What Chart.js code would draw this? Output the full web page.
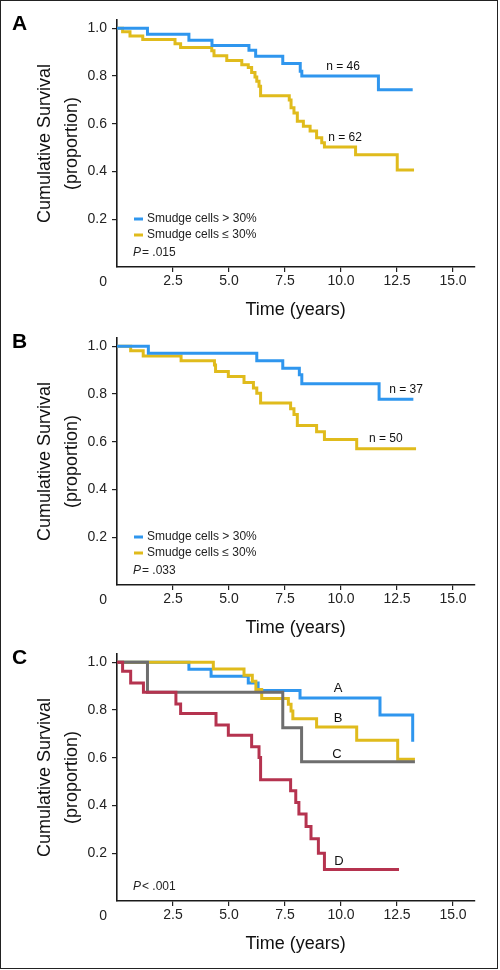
<!DOCTYPE html>
<html><head><meta charset="utf-8">
<script src="https://cdn.jsdelivr.net/npm/chart.js@4.4.1/dist/chart.umd.min.js"></script>
<style>
html,body{margin:0;padding:0;background:#fff;}
body{width:500px;height:970px;position:relative;overflow:hidden;}
#frame{position:absolute;left:0;top:0;width:498px;height:969px;box-sizing:border-box;border:1px solid #222;pointer-events:none;z-index:5}
canvas{position:absolute;left:0;}
</style></head><body>
<div id="frame"></div>
<canvas id="cA" width="500" height="322" style="top:0px"></canvas>
<canvas id="cB" width="500" height="322" style="top:318px"></canvas>
<canvas id="cC" width="500" height="322" style="top:634px"></canvas>
<script>
// ---- tick values ----
const xTicks = [2.5, 5, 7.5, 10, 12.5, 15];
const yTicks = [0, 0.2, 0.4, 0.6, 0.8, 1.0];

// ---- Panel A ----
const aHighTime = [0, 1.36, 3.21, 4.24, 5.89, 6.19, 7.4, 8.18, 8.25, 11.67, 13.2];
const aHighSurv = [1, 0.975, 0.95, 0.928, 0.908, 0.883, 0.853, 0.82, 0.80, 0.743, 0.743];
const aLowTime = [0, 0.25, 0.58, 1.15, 2.59, 2.84, 4.23, 4.33, 4.9, 5.57, 5.86, 6.01, 6.16, 6.24, 6.34, 6.41, 7.69, 7.77, 7.9, 8.05, 8.32, 8.62, 8.91, 9.14, 9.26, 10.65, 12.51, 13.26];
const aLowSurv = [1, 0.986, 0.968, 0.953, 0.935, 0.92, 0.906, 0.885, 0.865, 0.847, 0.836, 0.815, 0.796, 0.778, 0.757, 0.718, 0.70, 0.667, 0.645, 0.611, 0.59, 0.57, 0.542, 0.521, 0.503, 0.47, 0.406, 0.406];

// ---- Panel B ----
const bHighTime = [0, 1.40, 6.24, 7.4, 8.14, 8.25, 11.7, 13.23];
const bHighSurv = [1, 0.971, 0.940, 0.908, 0.881, 0.843, 0.778, 0.778];
const bLowTime = [0, 0.61, 1.17, 2.86, 4.35, 4.40, 4.97, 5.67, 6.09, 6.24, 6.41, 7.75, 7.9, 8.05, 8.91, 9.26, 10.7, 13.35];
const bLowSurv = [1, 0.982, 0.96, 0.94, 0.922, 0.895, 0.874, 0.849, 0.825, 0.804, 0.763, 0.739, 0.714, 0.668, 0.642, 0.61, 0.571, 0.571];

// ---- Panel C ----
const cATime = [0, 3.21, 4.2, 5.86, 6.3, 8.17, 11.74, 13.2];
const cASurv = [1, 0.971, 0.942, 0.914, 0.882, 0.851, 0.779, 0.667];
const cBTime = [0, 4.3, 5.67, 6.04, 6.2, 6.46, 7.65, 7.77, 7.85, 8.91, 10.7, 12.53, 13.3];
const cBSurv = [1, 0.972, 0.946, 0.921, 0.886, 0.849, 0.824, 0.796, 0.764, 0.729, 0.674, 0.594, 0.594];
const cCTime = [0, 1.36, 7.4, 8.24, 13.3];
const cCSurv = [1, 0.875, 0.726, 0.583, 0.583];
const cDTime = [0, 0.25, 0.61, 1.18, 2.63, 2.84, 4.42, 4.97, 6.01, 6.34, 6.41, 7.75, 7.98, 8.12, 8.44, 8.66, 8.99, 9.26, 12.59];
const cDSurv = [1, 0.9625, 0.914, 0.875, 0.826, 0.786, 0.738, 0.695, 0.646, 0.601, 0.508, 0.462, 0.413, 0.365, 0.312, 0.261, 0.20, 0.132, 0.132];

const legendLabels = ['Smudge cells > 30%', 'Smudge cells \u2264 30%'];

const FONT = '"Liberation Sans", Arial, Helvetica, sans-serif';
const BLUE = '#2f96ee', YELLOW = '#e0bb1c', RED = '#b5334f', GRAY = '#6e6e6e';

function pts(t, s) { return t.map((v, i) => ({x: v, y: s[i]})); }
function ds(t, s, color) {
  return {data: pts(t, s), borderColor: color, borderWidth: 3, pointRadius: 0,
          stepped: 'before', fill: false, tension: 0, borderCapStyle: 'butt', borderJoinStyle: 'miter'};
}

const annot = {
  id: 'annot',
  afterDraw(chart, args, o) {
    const ctx = chart.ctx, xs = chart.scales.x, ys = chart.scales.y, ca = chart.chartArea;
    ctx.save();
    ctx.fillStyle = '#000';
    ctx.textBaseline = 'middle';
    ctx.textAlign = 'left';
    ctx.font = 'bold 21px ' + FONT;
    ctx.fillText(o.letter, 12, 24);
    ctx.fillStyle = '#111';
    ctx.textAlign = 'center';
    (o.labels || []).forEach(l => {
      ctx.font = l.size + 'px ' + FONT;
      ctx.fillText(l.text, xs.getPixelForValue(l.t), ys.getPixelForValue(l.s));
    });
    ctx.textAlign = 'left';
    ctx.font = '12px ' + FONT;
    (o.legend || []).forEach((it, i) => {
      const y = ca.bottom - 48 + i * 16;
      ctx.strokeStyle = it.color; ctx.lineWidth = 3;
      ctx.beginPath(); ctx.moveTo(ca.left + 17, y); ctx.lineTo(ca.left + 26, y); ctx.stroke();
      ctx.fillStyle = '#222';
      ctx.fillText(it.text, ca.left + 30, y);
    });
    const py = ca.bottom - 14;
    ctx.fillStyle = '#222';
    ctx.font = 'italic 12px ' + FONT;
    ctx.fillText('P', ca.left + 16, py);
    const w = ctx.measureText('P').width;
    ctx.font = '12px ' + FONT;
    ctx.fillText(o.pText, ca.left + 16 + w + 1, py);
    ctx.restore();
  }
};

function options(annotOpts) {
  return {
    responsive: false, animation: false, devicePixelRatio: 1,
    layout: {padding: {left: 0, right: 25.7, top: 18, bottom: 0}},
    plugins: {legend: {display: false}, tooltip: {enabled: false}, annot: annotOpts},
    scales: {
      x: {
        type: 'linear', min: 0, max: 15.95,
        afterBuildTicks: s => { s.ticks = xTicks.map(v => ({value: v})); },
        afterFit: s => { s.height = 55; },
        grid: {drawOnChartArea: false, drawTicks: true, tickLength: 5, color: '#222', lineWidth: 1.2},
        border: {display: true, color: '#1a1a1a', width: 1.6},
        ticks: {padding: 1, color: '#222', font: {family: FONT, size: 14}, maxRotation: 0, autoSkip: false,
                callback: v => Number(v).toFixed(1)},
        title: {display: true, text: 'Time (years)', color: '#111', font: {family: FONT, size: 18},
                padding: {top: 0, bottom: 1.2}}
      },
      y: {
        type: 'linear', min: 0, max: 1.035,
        afterBuildTicks: s => { s.ticks = yTicks.map(v => ({value: v})); },
        afterFit: s => { s.width = 117; },
        grid: {drawOnChartArea: false, drawTicks: true, tickLength: 5, lineWidth: 1.2,
               color: c => (c.tick && c.tick.value === 0) ? 'rgba(0,0,0,0)' : '#222'},
        border: {display: true, color: '#1a1a1a', width: 1.6},
        ticks: {padding: 5, color: '#222', font: {family: FONT, size: 14, lineHeight: '30px'}, autoSkip: false,
                callback: v => v === 0 ? ['', '0'] : Number(v).toFixed(1)},
        title: {display: true, text: ['Cumulative Survival', '(proportion)'], color: '#111',
                font: {family: FONT, size: 18, lineHeight: 1.5}, padding: {top: 31.5, bottom: 0}}
      }
    }
  };
}

new Chart(document.getElementById('cA'), {
  type: 'line',
  data: {datasets: [ds(aHighTime, aHighSurv, BLUE), ds(aLowTime, aLowSurv, YELLOW)]},
  options: options({
    letter: 'A', pText: '= .015',
    labels: [{text: 'n = 46', t: 10.09, s: 0.84, size: 12}, {text: 'n = 62', t: 10.18, s: 0.54, size: 12}],
    legend: [{text: legendLabels[0], color: BLUE}, {text: legendLabels[1], color: YELLOW}]
  }),
  plugins: [annot]
});

new Chart(document.getElementById('cB'), {
  type: 'line',
  data: {datasets: [ds(bHighTime, bHighSurv, BLUE), ds(bLowTime, bLowSurv, YELLOW)]},
  options: options({
    letter: 'B', pText: '= .033',
    labels: [{text: 'n = 37', t: 12.9, s: 0.82, size: 12}, {text: 'n = 50', t: 12.0, s: 0.6125, size: 12}],
    legend: [{text: legendLabels[0], color: BLUE}, {text: legendLabels[1], color: YELLOW}]
  }),
  plugins: [annot]
});

new Chart(document.getElementById('cC'), {
  type: 'line',
  data: {datasets: [ds(cDTime, cDSurv, RED), ds(cCTime, cCSurv, GRAY), ds(cBTime, cBSurv, YELLOW), ds(cATime, cASurv, BLUE)]},
  options: options({
    letter: 'C', pText: '< .001',
    labels: [{text: 'A', t: 9.87, s: 0.892, size: 13}, {text: 'B', t: 9.87, s: 0.767, size: 13},
             {text: 'C', t: 9.82, s: 0.6125, size: 13}, {text: 'D', t: 9.91, s: 0.167, size: 13}],
    legend: []
  }),
  plugins: [annot]
});
</script>
</body></html>
